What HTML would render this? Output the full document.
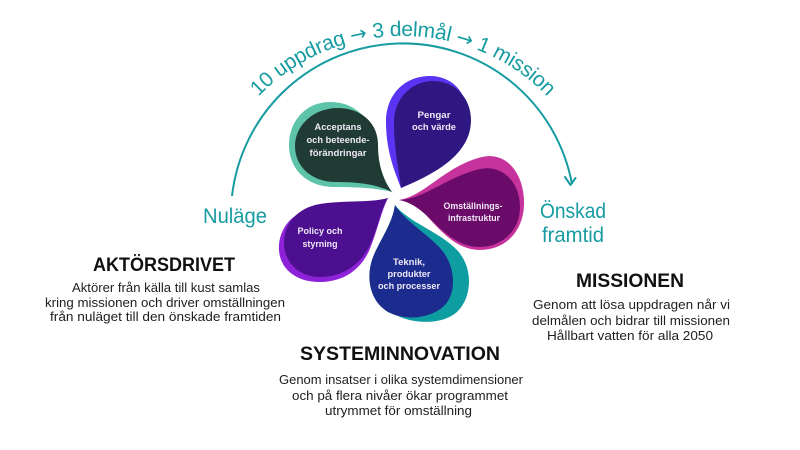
<!DOCTYPE html>
<html><head><meta charset="utf-8"><style>
html,body{margin:0;padding:0;background:#fff;}
svg{display:block;}
text{font-family:"Liberation Sans",sans-serif;}
</style></head><body>
<svg width="800" height="450" viewBox="0 0 800 450" xmlns="http://www.w3.org/2000/svg">
<rect width="800" height="450" fill="#ffffff"/>
<defs>
<path id="tp" d="M 211,214 A 192 178 0 0 1 595,214"/>
</defs>
<!-- arc -->
<path d="M 232,196 A 172 172 0 0 1 572,184" fill="none" stroke="#179ca2" stroke-width="2"/>
<polyline points="565,177 570.5,185 575.5,178" fill="none" stroke="#179ca2" stroke-width="2" stroke-linecap="round" stroke-linejoin="round"/>
<text font-size="21" fill="#179ca2" text-anchor="middle"><textPath href="#tp" startOffset="50%" textLength="322" lengthAdjust="spacing">10 uppdrag <tspan font-family="DejaVu Sans, sans-serif" font-size="20">→</tspan> 3 delmål <tspan font-family="DejaVu Sans, sans-serif" font-size="20">→</tspan> 1 mission</textPath></text>

<!-- Petal A -->
<path d="M 392,192 C 382,180 376,162 374,142 C 372,118 354,102 330,102 C 306,102 289,121 289,145 C 289,170 308,187 334,187 C 358,187 377,188 392,192 Z" fill="#5ec4a9"/>
<path d="M 392,192 C 383,180 378,164 378,145 C 378,122 360,108 338,108 C 314,108 295,125 295,146 C 295,167 312,182 336,182 C 358,182 376,184 392,192 Z" fill="#1f3b34"/>
<!-- Petal B -->
<path d="M 401,188 C 394,170 386,150 386,122 C 386,94 405,76 430,76 C 452,76 466,92 467,112 C 468,140 440,168 401,188 Z" fill="#5b33f2"/>
<path d="M 401,188 C 399,170 394,150 394,123 C 394,98 412,81 433,81 C 455,81 471,98 471,120 C 471,152 440,172 401,188 Z" fill="#2e1780"/>
<!-- Petal C -->
<path d="M 399,200 C 425,196 445,166 482,157 C 508,151 525,176 524,205 C 523,232 505,250 480,250 C 456,250 440,230 425,214 C 415,205 406,201 399,200 Z" fill="#c7339c"/>
<path d="M 399,200 C 425,199 446,177 480,169 C 503,164 520,183 520,207 C 520,231 502,247 479,247 C 456,247 440,228 425,214 C 415,205 406,201 399,200 Z" fill="#6b0b69"/>
<!-- Petal D -->
<path d="M 395,205 C 408,222 440,232 457,250 C 474,268 472,298 457,312 C 442,325 415,324 398,316 L 388,312 C 370,300 366,278 372,260 C 378,242 392,226 395,205 Z" fill="#0e9ea2"/>
<path d="M 395,205 C 404,220 425,232 440,248 C 455,264 458,292 444,306 C 430,319 405,321 388,312 C 370,301 366,279 372,260 C 378,242 392,226 395,205 Z" fill="#1b2c8e"/>
<!-- Petal E -->
<path d="M 388,198 C 368,205 340,204 315,208 C 290,212 278,231 279,250 C 280,270 298,283 322,282 C 346,281 361,268 369,251 C 377,232 381,212 388,198 Z" fill="#8d22d8"/>
<path d="M 388,198 C 370,203 345,200 320,204 C 296,208 284,225 284,243 C 284,263 300,277 320,277 C 345,277 362,262 370,245 C 378,228 380,210 388,198 Z" fill="#4b0f8f"/>

<!-- petal labels -->
<g font-size="9.5" font-weight="bold" fill="#efe9f6" text-anchor="middle">
<text x="338" y="130" textLength="47" lengthAdjust="spacingAndGlyphs">Acceptans</text>
<text x="338" y="143" textLength="63" lengthAdjust="spacingAndGlyphs">och beteende-</text>
<text x="338" y="156" textLength="57" lengthAdjust="spacingAndGlyphs">förändringar</text>
<text x="434" y="118" textLength="33" lengthAdjust="spacingAndGlyphs">Pengar</text>
<text x="434" y="130" textLength="44" lengthAdjust="spacingAndGlyphs">och värde</text>
<text x="473" y="209" textLength="59" lengthAdjust="spacingAndGlyphs">Omställnings-</text>
<text x="474" y="221" textLength="52" lengthAdjust="spacingAndGlyphs">infrastruktur</text>
<text x="409" y="265" textLength="32" lengthAdjust="spacingAndGlyphs">Teknik,</text>
<text x="409" y="277" textLength="43" lengthAdjust="spacingAndGlyphs">produkter</text>
<text x="409" y="289" textLength="62" lengthAdjust="spacingAndGlyphs">och processer</text>
<text x="320" y="234" textLength="45" lengthAdjust="spacingAndGlyphs">Policy och</text>
<text x="320" y="247" textLength="35" lengthAdjust="spacingAndGlyphs">styrning</text>
</g>

<!-- teal labels -->
<g font-size="21" fill="#179ca2">
<text x="203" y="223" textLength="64" lengthAdjust="spacingAndGlyphs">Nuläge</text>
<text x="540" y="218" textLength="66" lengthAdjust="spacingAndGlyphs">Önskad</text>
<text x="542" y="242" textLength="62" lengthAdjust="spacingAndGlyphs">framtid</text>
</g>

<!-- titles -->
<g font-size="19" font-weight="bold" fill="#111" text-anchor="middle">
<text x="164" y="271" textLength="142" lengthAdjust="spacingAndGlyphs">AKTÖRSDRIVET</text>
<text x="630" y="287" textLength="108" lengthAdjust="spacingAndGlyphs">MISSIONEN</text>
<text x="400" y="360" textLength="200" lengthAdjust="spacingAndGlyphs">SYSTEMINNOVATION</text>
</g>

<!-- body text -->
<g font-size="12.5" fill="#1e1e1e" text-anchor="middle">
<text x="166" y="292" textLength="188" lengthAdjust="spacingAndGlyphs">Aktörer från källa till kust samlas</text>
<text x="165" y="307" textLength="240" lengthAdjust="spacingAndGlyphs">kring missionen och driver omställningen</text>
<text x="165.5" y="321" textLength="231" lengthAdjust="spacingAndGlyphs">från nuläget till den önskade framtiden</text>

<text x="631.5" y="309" textLength="197" lengthAdjust="spacingAndGlyphs">Genom att lösa uppdragen når vi</text>
<text x="631" y="325" textLength="198" lengthAdjust="spacingAndGlyphs">delmålen och bidrar till missionen</text>
<text x="630" y="340" textLength="166" lengthAdjust="spacingAndGlyphs">Hållbart vatten för alla 2050</text>

<text x="401" y="384" textLength="244" lengthAdjust="spacingAndGlyphs">Genom insatser i olika systemdimensioner</text>
<text x="400" y="400" textLength="216" lengthAdjust="spacingAndGlyphs">och på flera nivåer ökar programmet</text>
<text x="398.5" y="415" textLength="147" lengthAdjust="spacingAndGlyphs">utrymmet för omställning</text>
</g>
</svg>
</body></html>
